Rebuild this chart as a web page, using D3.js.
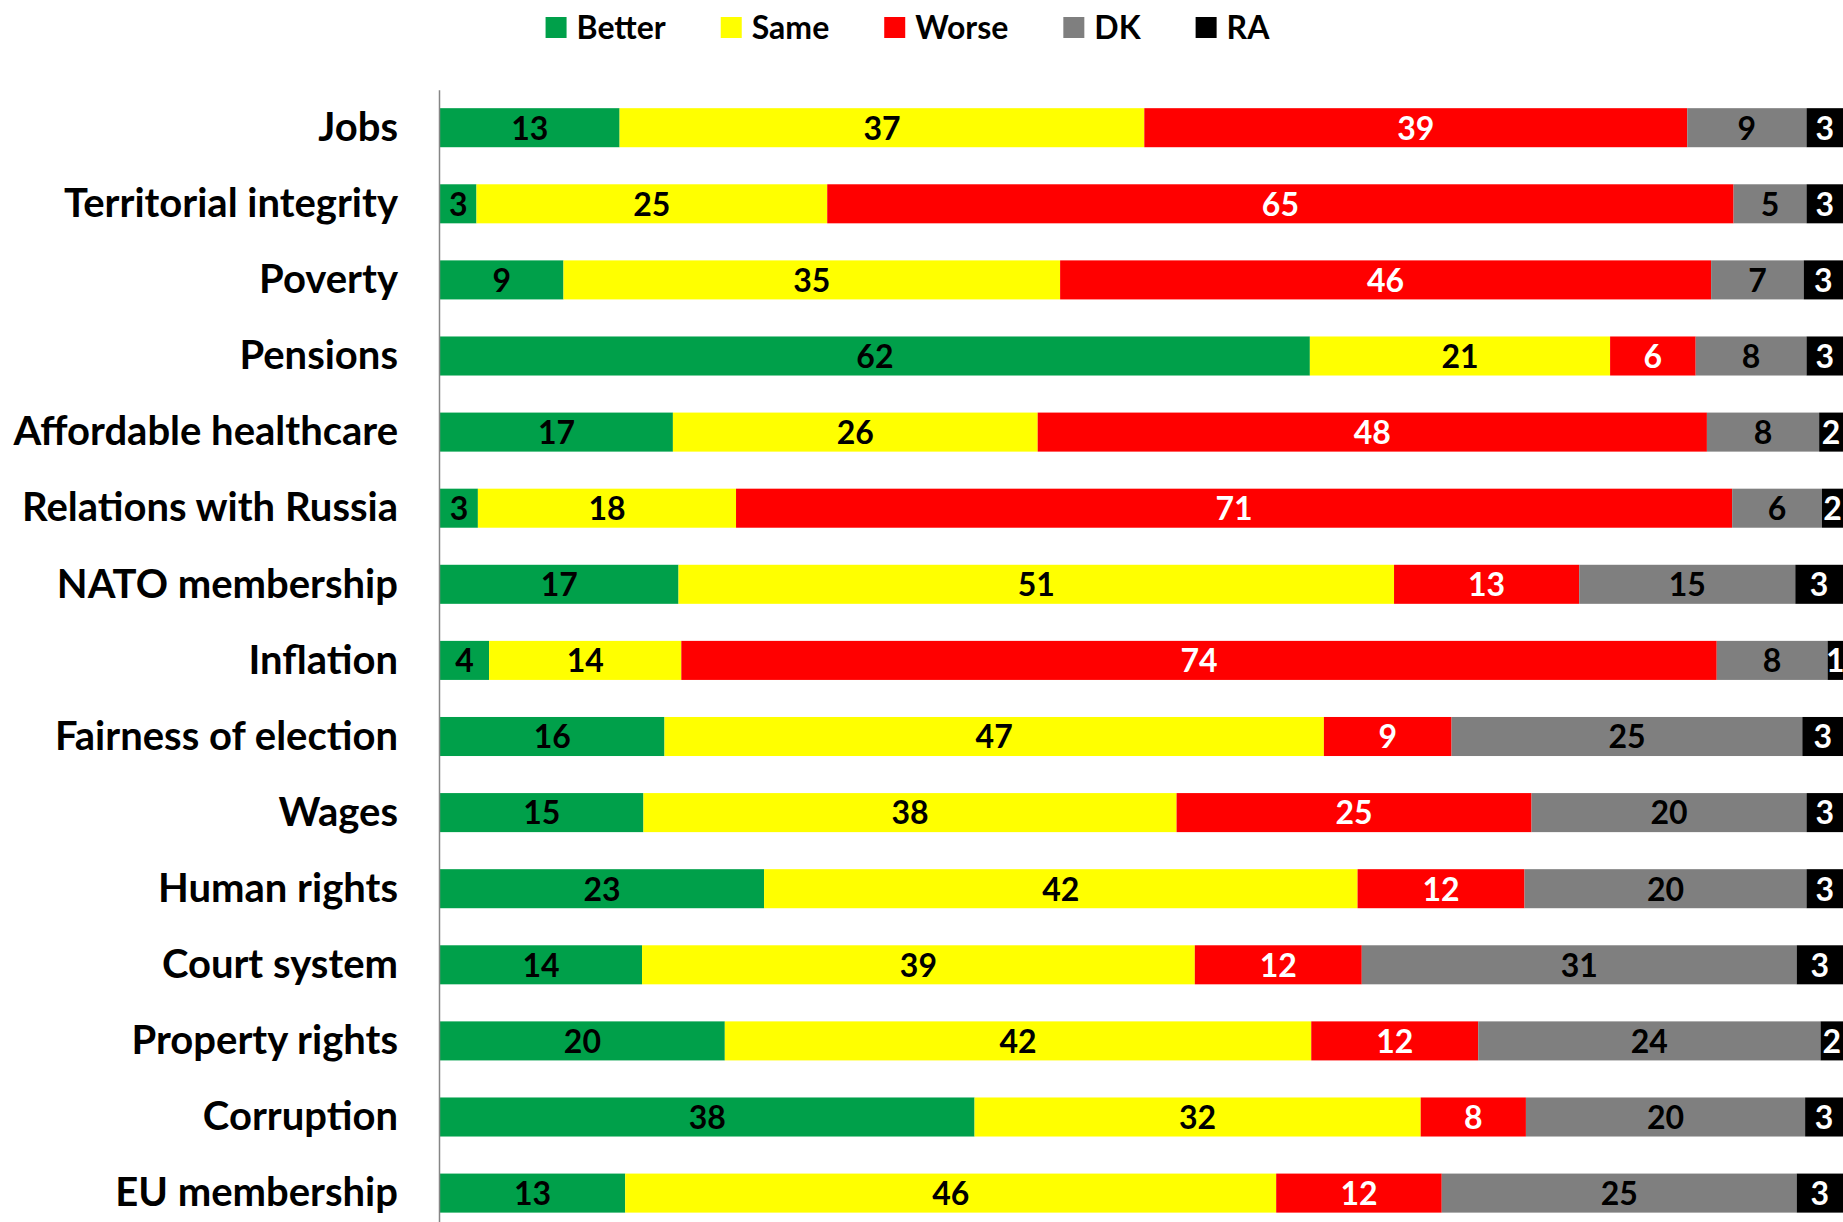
<!DOCTYPE html>
<html>
<head>
<meta charset="utf-8">
<script src="https://cdn.jsdelivr.net/npm/d3@7"></script>
<style>
	body { margin: 0; background: #fff; }
	svg { display: block; }
</style>
</head>
<body>
<svg id="svg_chart" width="1843" height="1222"></svg>
<script>
// data (segment widths in %, labels are the rounded values)
var categories = ["Jobs", "Territorial integrity", "Poverty", "Pensions", "Affordable healthcare",
	"Relations with Russia", "NATO membership", "Inflation", "Fairness of election", "Wages",
	"Human rights", "Court system", "Property rights", "Corruption", "EU membership"];
var better = [12.8, 2.6, 8.8, 62.0, 16.6, 2.7, 17.0, 3.5, 16.0, 14.5, 23.1, 14.4, 20.3, 38.1, 13.2];
var same   = [37.4, 25.0, 35.4, 21.4, 26.0, 18.4, 51.0, 13.7, 47.0, 38.0, 42.3, 39.4, 41.8, 31.8, 46.4];
var worse  = [38.7, 64.6, 46.4, 6.1, 47.7, 71.0, 13.2, 73.8, 9.1, 25.3, 11.9, 11.9, 11.9, 7.5, 11.8];
var dk     = [8.5, 5.2, 6.6, 7.9, 8.0, 6.4, 15.4, 7.9, 25.0, 19.6, 20.1, 31.0, 24.4, 19.9, 25.3];
var ra     = [2.6, 2.6, 2.8, 2.6, 1.7, 1.5, 3.4, 1.1, 2.9, 2.6, 2.6, 3.3, 1.6, 2.7, 3.3];
var seriesNames = ["Better", "Same", "Worse", "DK", "RA"];

var options = {
	colors: { "Better": "#00a04a", "Same": "#ffff00", "Worse": "#ff0000", "DK": "#7f7f7f", "RA": "#000000" },
	labelColors: { "Better": "#000", "Same": "#000", "Worse": "#fff", "DK": "#000", "RA": "#fff" },
	font: "Lato, 'Open Sans', sans-serif"
};

function renderChart() {
	var svg = d3.select("#svg_chart"),
		width = +svg.attr("width"),
		height = +svg.attr("height");

	var table = categories.map(function(c, i) {
		return { "category": c, "Better": better[i], "Same": same[i], "Worse": worse[i], "DK": dk[i], "RA": ra[i] };
	});
	var stacked = d3.stack().keys(seriesNames)(table);

	var x = d3.scaleLinear().domain([0, 100]).range([440, width]);
	var y = d3.scaleBand().domain(categories)
		.range([89.65, 1231.15])
		.paddingInner(0.487)
		.paddingOuter(0.2435);

	var g_bars = svg.append("g").attr("id", "bars");
	var layer = g_bars.selectAll("g").data(stacked)
		.enter().append("g")
		.attr("fill", function(d) { return options.colors[d.key]; });
	layer.selectAll("rect").data(function(d) { return d; })
		.enter().append("rect")
		.attr("x", function(d) { return x(d[0]); })
		.attr("y", function(d) { return y(d.data.category); })
		.attr("width", function(d) { return x(d[1]) - x(d[0]); })
		.attr("height", y.bandwidth());

	var g_labels = svg.append("g").attr("id", "values")
		.style("font-family", options.font)
		.style("font-weight", "bold")
		.style("font-size", "32px");
	stacked.forEach(function(s) {
		g_labels.selectAll(null).data(s)
			.enter().append("text")
			.attr("x", function(d) { return (x(d[0]) + x(d[1])) / 2; })
			.attr("y", function(d) { return y(d.data.category) + y.bandwidth() / 2; })
			.attr("dy", "0.37em")
			.attr("text-anchor", "middle")
			.attr("fill", options.labelColors[s.key])
			.text(function(d) { return Math.round(d.data[s.key]); });
	});

	// category axis
	var g_axis = svg.append("g").attr("id", "axis")
		.attr("transform", "translate(439,0)")
		.call(d3.axisLeft(y).tickSize(0).tickPadding(41));
	g_axis.select(".domain").attr("stroke", "#868686").attr("stroke-width", 1.5);
	g_axis.selectAll("text")
		.attr("dy", "0.33em")
		.style("font-family", options.font)
		.style("font-weight", "bold")
		.style("font-size", "40px")
		.attr("fill", "#000");

	// legend
	var g_legend = svg.append("g").attr("id", "legend")
		.style("font-family", options.font)
		.style("font-weight", "bold")
		.style("font-size", "32px");
	var cursor = 0;
	seriesNames.forEach(function(name) {
		var item = g_legend.append("g").attr("transform", "translate(" + cursor + ",0)");
		item.append("rect")
			.attr("x", 0).attr("y", 17)
			.attr("width", 21).attr("height", 21)
			.attr("fill", options.colors[name]);
		var t = item.append("text")
			.attr("x", 31).attr("y", 39)
			.attr("fill", "#000")
			.text(name);
		cursor += 31 + t.node().getComputedTextLength() + 55;
	});
	var legendWidth = cursor - 55;
	g_legend.attr("transform", "translate(" + (907.5 - legendWidth / 2) + ",0)");
}

renderChart();
</script>
</body>
</html>
